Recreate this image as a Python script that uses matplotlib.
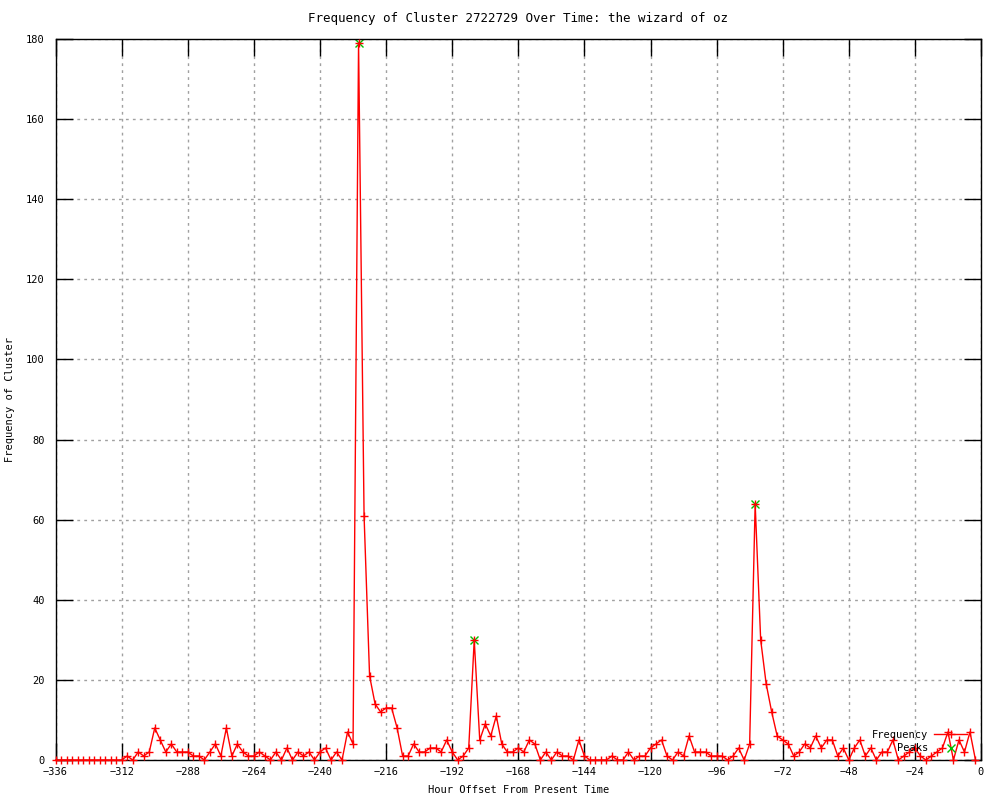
import numpy as np
import matplotlib.pyplot as plt

# hourly offsets, one sample every 2 hours (last sample at -2)
hours = np.arange(-336, 0, 2)
freq = [0, 0, 0, 0, 0, 0, 0, 0, 0, 0, 0, 0, 0,          # -336 .. -312
        1, 0, 2, 1, 2, 8, 5, 2, 4, 2, 2, 2, 1, 1,       # -310 .. -284
        0, 2, 4, 1, 8, 1, 4, 2, 1, 1, 2, 1, 0, 2,       # -282 .. -256
        0, 3, 0, 2, 1, 2, 0, 2, 3, 0, 2, 0, 7, 4,       # -254 .. -228
        179, 61, 21, 14, 12, 13, 13, 8, 1, 1, 4, 2, 2, 3,   # -226 .. -200
        3, 2, 5, 2, 0, 1, 3, 30, 5, 9, 6, 11, 4, 2,     # -198 .. -172
        2, 3, 2, 5, 4, 0, 2, 0, 2, 1, 1, 0, 5, 1,       # -170 .. -144
        0, 0, 0, 0, 1, 0, 0, 2, 0, 1, 1, 3, 4, 5,       # -142 .. -116
        1, 0, 2, 1, 6, 2, 2, 2, 1, 1, 1, 0, 1, 3,       # -114 .. -88
        0, 4, 64, 30, 19, 12, 6, 5, 4, 1, 2, 4, 3, 6,   # -86 .. -60
        3, 5, 5, 1, 3, 0, 3, 5, 1, 3, 0, 2, 2, 5,       # -58 .. -32
        0, 1, 2, 3, 1, 0, 1, 2, 3, 7, 0, 5, 2, 7,       # -30 .. -4
        0]                                              # -2
assert len(freq) == len(hours)

peak_hours = [-226, -184, -82]
peak_freq = [179, 30, 64]

plt.rcParams['font.family'] = 'DejaVu Sans Mono'
plt.rcParams['font.size'] = 7.5

fig = plt.figure(figsize=(10, 8), dpi=100)
ax = fig.add_axes([0.0556, 0.05, 0.9254, 0.90125])

pk, = ax.plot(peak_hours, peak_freq, linestyle='none', marker='x', color='#00c000',
              markersize=6, markeredgewidth=1, zorder=2)
fl, = ax.plot(hours, freq, color='red', linewidth=1, marker='+', markersize=6,
              markeredgewidth=1, zorder=3, clip_on=False)

ax.set_xlim(-336, 0)
ax.set_ylim(0, 180)
ax.set_xticks(np.arange(-336, 1, 24))
ax.set_yticks(np.arange(0, 181, 20))
ax.tick_params(direction='in', length=12, width=1, top=True, right=True)
ax.tick_params(axis='x', pad=5)
ax.tick_params(axis='y', pad=8)
ax.grid(True, color='#a0a0a0', linestyle=(0, (2, 3)), linewidth=1)
ax.set_axisbelow(True)
for s in ax.spines.values():
    s.set_linewidth(1)

ax.set_title('Frequency of Cluster 2722729 Over Time: the wizard of oz', pad=12)
ax.set_xlabel('Hour Offset From Present Time', labelpad=6)
ax.set_ylabel('Frequency of Cluster', labelpad=8)

ax.legend([fl, pk], ['Frequency', '    Peaks'], loc='lower right',
          bbox_to_anchor=(0.991, 0.002), frameon=False, markerfirst=False,
          handlelength=3.2, numpoints=1, borderpad=0, labelspacing=0.35,
          handletextpad=0.55)

fig.savefig('out.png')
